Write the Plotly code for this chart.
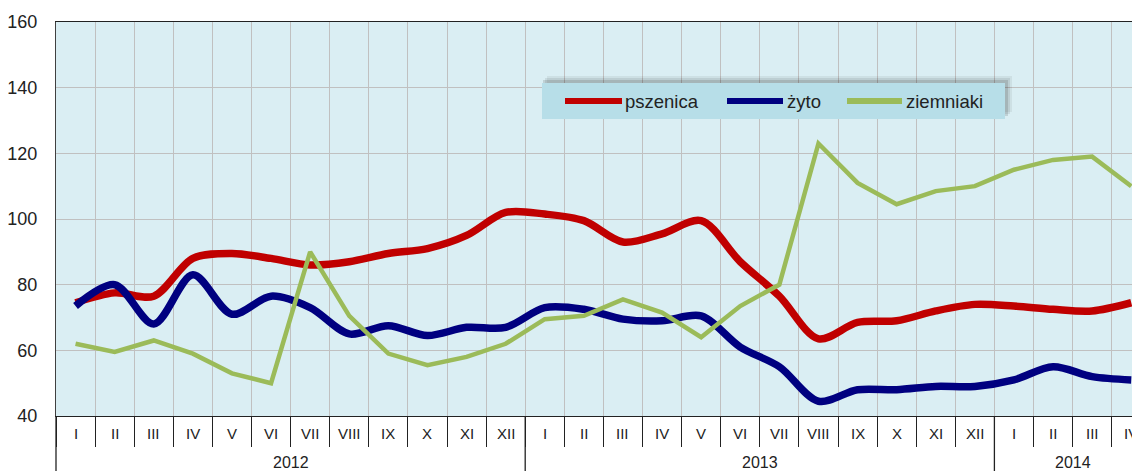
import plotly.graph_objects as go

# ---- data ----
months = ["I", "II", "III", "IV", "V", "VI", "VII", "VIII", "IX", "X", "XI", "XII"] * 2 + ["I", "II", "III", "IV"]
years = ["2012"] * 12 + ["2013"] * 12 + ["2014"] * 4
year_labels = ["2012", "2013", "2014"]
categories = [f"{y}-{m}" for y, m in zip(years, months)]

pszenica = [74.5, 77.5, 76.5, 88, 89.5, 88, 86, 87, 89.5, 91, 95, 102,
            101.5, 99.5, 93, 95.5, 99.5, 87, 76.5, 63.5, 68.5, 69, 72, 74,
            73.5, 72.5, 72, 74.5]
zyto = [73.5, 80, 68, 83, 71, 76.5, 73, 65, 67.5, 64.5, 67, 67,
        73, 72.5, 69.5, 69, 70.5, 61, 55, 44.5, 48, 48, 49, 49,
        51, 55, 52, 51]
ziemniaki = [62, 59.5, 63, 59, 53, 50, 90, 70.5, 59, 55.5, 58, 62,
             69.5, 70.5, 75.5, 71.5, 64, 73.5, 80, 123, 111, 104.5, 108.5, 110,
             115, 118, 119, 110]
series_names = ["pszenica", "żyto", "ziemniaki"]

# ---- layout constants (screen pixels; page body has an 8px margin) ----
OFF = 8
SW, SH = 1140, 471
W, H = SW - OFF, SH - OFF
PL, PT, PB = 56, 22, 416          # plot-area edges on screen
ML, MT, MB = PL - OFF, PT - OFF, SH - PB
PW = W - ML
PH = H - MT - MB
CAT_W = 39.1
FONT = "Liberation Sans, Arial, sans-serif"
TXT = "#222222"
colors = ["#C00000", "#000080", "#9BBB59"]
widths = [7.5, 7.5, 4.5]
shapes_kind = ["spline", "spline", "linear"]


def px(x):
    return (x - PL) / PW


def py(y):
    return (PB - y) / PH


fig = go.Figure()
for name, vals, c, w, s in zip(series_names, [pszenica, zyto, ziemniaki], colors, widths, shapes_kind):
    fig.add_trace(go.Scatter(
        x=categories, y=vals, mode="lines", name=name,
        line=dict(color=c, width=w, shape=s, smoothing=0.9 if s == "spline" else None),
        showlegend=False, hoverinfo="skip"))

x_end = -0.5 + PW / CAT_W

shapes = []
annotations = []

# month labels
for cat, m in zip(categories, months):
    annotations.append(dict(x=cat, y=py(433), xref="x", yref="paper", text=m, showarrow=False,
                            font=dict(family=FONT, size=15, color=TXT), xanchor="center", yanchor="middle"))

# year labels and separators
for yl in year_labels:
    idx = [i for i, y in enumerate(years) if y == yl]
    center = (idx[0] + idx[-1]) / 2
    annotations.append(dict(x=center, y=py(462), xref="x", yref="paper", text=yl, showarrow=False,
                            font=dict(family=FONT, size=16, color=TXT), xanchor="center", yanchor="middle"))
    if idx[0] > 0:
        shapes.append(dict(type="line", xref="x", yref="paper", x0=idx[0] - 0.5, x1=idx[0] - 0.5,
                           y0=0, y1=py(SH + 2), line=dict(color="#222222", width=1.3)))
# left axis extension
shapes.append(dict(type="line", xref="paper", yref="paper", x0=0, x1=0, y0=0, y1=py(SH + 2),
                   line=dict(color="#222222", width=1.3)))

# legend box with shadow
lx0, lx1, ly0, ly1 = 542, 1005, 83, 119
for k, op in [(7, 0.06), (5, 0.08), (3, 0.12)]:
    shapes.append(dict(type="rect", xref="paper", yref="paper",
                       x0=px(lx0 + k - 2), x1=px(lx1 + k), y0=py(ly1 - k), y1=py(ly0 - k),
                       fillcolor=f"rgba(0,0,0,{op})", line=dict(width=0), layer="above"))
shapes.append(dict(type="rect", xref="paper", yref="paper", x0=px(lx0), x1=px(lx1), y0=py(ly1), y1=py(ly0),
                   fillcolor="#B7DEE8", line=dict(width=0), layer="above"))
leg_items = [(565, 622, 623), (727, 783, 785), (847, 902, 904)]
for (a, b, t), name, c in zip(leg_items, series_names, colors):
    shapes.append(dict(type="line", xref="paper", yref="paper", x0=px(a), x1=px(b), y0=py(101), y1=py(101),
                       line=dict(color=c, width=6), layer="above"))
    annotations.append(dict(x=px(t), y=py(101), xref="paper", yref="paper", text=name, showarrow=False,
                            font=dict(family=FONT, size=18.5, color=TXT), xanchor="left", yanchor="middle"))

fig.update_layout(
    width=W, height=H,
    margin=dict(l=ML, r=0, t=MT, b=MB, autoexpand=False),
    paper_bgcolor="white",
    plot_bgcolor="#DAEEF3",
    shapes=shapes,
    annotations=annotations,
    xaxis=dict(type="category", categoryorder="array", categoryarray=categories,
               range=[-0.5, x_end], showticklabels=False, automargin=False,
               ticks="outside", tickson="boundaries", ticklen=30, tickcolor="#222222", tickwidth=1.3,
               showgrid=True, gridcolor="#C0C0C0", gridwidth=1,
               showline=True, linecolor="#222222", linewidth=1.3, mirror=True, zeroline=False),
    yaxis=dict(range=[40, 160], dtick=20, tick0=40, showgrid=True, gridcolor="#C0C0C0", gridwidth=1,
               showline=True, linecolor="#404040", linewidth=1.3, zeroline=False, automargin=False,
               ticks="", ticklabelstandoff=14,
               tickfont=dict(family=FONT, size=18, color=TXT)),
    showlegend=False,
)

fig.write_html("out.html")
